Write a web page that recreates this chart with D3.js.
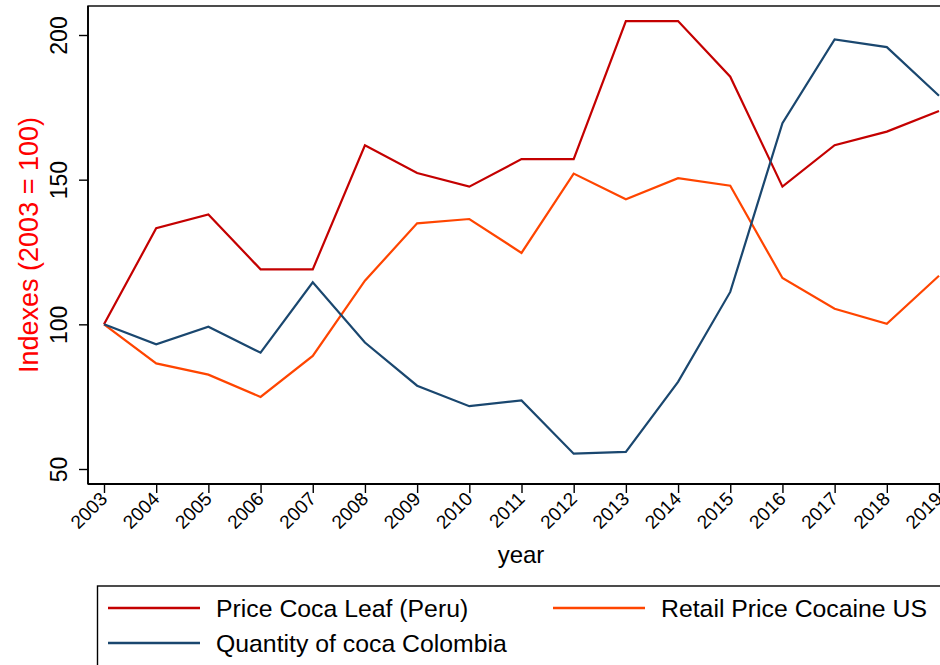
<!DOCTYPE html>
<html>
<head>
<meta charset="utf-8">
<script src="https://cdn.jsdelivr.net/npm/d3@7"></script>
<style>
  html, body { margin: 0; padding: 0; background: #fff; }
  svg { display: block; font-family: "Liberation Sans", Arial, sans-serif; }
</style>
</head>
<body>
<svg id="chart" width="940" height="665"></svg>
<script>
// Index series, 2003 = 100
const years = [2003, 2004, 2005, 2006, 2007, 2008, 2009, 2010, 2011, 2012, 2013, 2014, 2015, 2016, 2017, 2018, 2019];
const priceCocaLeafPeru = [100, 133.2, 138.0, 119.0, 119.0, 161.9, 152.3, 147.6, 157.1, 157.1, 204.8, 204.8, 185.6, 147.6, 161.9, 166.6, 173.7];
const retailPriceCocaineUS = [100, 86.5, 82.6, 74.9, 89.1, 115.1, 134.9, 136.4, 124.7, 152.1, 143.2, 150.5, 147.9, 116.0, 105.4, 100.2, 116.8];
const quantityCocaColombia = [100, 93.1, 99.2, 90.2, 114.5, 93.7, 78.8, 71.7, 73.7, 55.3, 55.9, 80.1, 111.2, 169.5, 198.5, 195.8, 179.0];
const yTicks = [50, 100, 150, 200];
const seriesNames = ["Price Coca Leaf (Peru)", "Retail Price Cocaine US", "Quantity of coca Colombia"];
const seriesColors = ["#c40000", "#ff4500", "#1a476f"];

const svg = d3.select("#chart");

const plot = { left: 88, top: 6, right: 955, bottom: 484 };
const x = d3.scaleLinear().domain([2003, 2019]).range([104, 939]);
const y = d3.scaleLinear().domain([50, 200]).range([469, 35]);

// plot region frame
svg.append("rect")
  .attr("x", plot.left).attr("y", plot.top)
  .attr("width", plot.right - plot.left).attr("height", plot.bottom - plot.top)
  .attr("fill", "none").attr("stroke", "#000").attr("stroke-width", 1.4);

// y axis
const yAxis = svg.append("g")
  .attr("transform", `translate(${plot.left},0)`)
  .call(d3.axisLeft(y).tickValues(yTicks).tickSize(9).tickPadding(0).tickFormat(d3.format("d")));
yAxis.select(".domain").attr("d", `M0,${plot.top}V${plot.bottom}`).attr("stroke-width", 1.8);
yAxis.selectAll(".tick line").attr("stroke-width", 1.4);
yAxis.selectAll(".tick text")
  .attr("font-size", 23).attr("fill", "#000")
  .attr("x", 0).attr("dy", null)
  .attr("text-anchor", "middle")
  .attr("transform", "translate(-21,0) rotate(-90)");

// x axis
const xAxis = svg.append("g")
  .attr("transform", `translate(0,${plot.bottom})`)
  .call(d3.axisBottom(x).tickValues(years).tickSize(9).tickPadding(0).tickFormat(d3.format("d")));
xAxis.select(".domain").attr("d", `M${plot.left},0H${plot.right}`).attr("stroke-width", 1.8);
xAxis.selectAll(".tick line").attr("stroke-width", 1.4);
xAxis.selectAll(".tick text")
  .attr("font-size", 19).attr("fill", "#000")
  .attr("y", 0).attr("dy", null)
  .attr("text-anchor", "end")
  .attr("transform", "translate(4,16) rotate(-45)");

// axis titles
svg.append("text")
  .attr("transform", `translate(38,${(plot.top + plot.bottom) / 2}) rotate(-90)`)
  .attr("text-anchor", "middle")
  .attr("font-size", 27).attr("fill", "#ff0000")
  .text("Indexes (2003 = 100)");

svg.append("text")
  .attr("x", 521).attr("y", 563)
  .attr("text-anchor", "middle")
  .attr("font-size", 24).attr("fill", "#000")
  .text("year");

// series lines
const line = d3.line().x((d, i) => x(years[i])).y(d => y(d));
[priceCocaLeafPeru, retailPriceCocaineUS, quantityCocaColombia].forEach((vals, k) => {
  svg.append("path")
    .datum(vals)
    .attr("d", line)
    .attr("fill", "none")
    .attr("stroke", seriesColors[k])
    .attr("stroke-width", 2.2)
    .attr("stroke-linejoin", "miter");
});

// legend
svg.append("rect")
  .attr("x", 97.5).attr("y", 586)
  .attr("width", 900).attr("height", 120)
  .attr("fill", "none").attr("stroke", "#000").attr("stroke-width", 1.4);

const legendItems = [
  { name: seriesNames[0], color: seriesColors[0], lx: 108, ly: 608 },
  { name: seriesNames[1], color: seriesColors[1], lx: 553, ly: 608 },
  { name: seriesNames[2], color: seriesColors[2], lx: 108, ly: 643 }
];
const lg = svg.append("g");
legendItems.forEach(it => {
  lg.append("line")
    .attr("x1", it.lx).attr("x2", it.lx + 92)
    .attr("y1", it.ly).attr("y2", it.ly)
    .attr("stroke", it.color).attr("stroke-width", 2.4);
  lg.append("text")
    .attr("x", it.lx + 108).attr("y", it.ly)
    .attr("dy", "0.35em")
    .attr("font-size", 24.8).attr("fill", "#000")
    .text(it.name);
});
</script>
</body>
</html>
